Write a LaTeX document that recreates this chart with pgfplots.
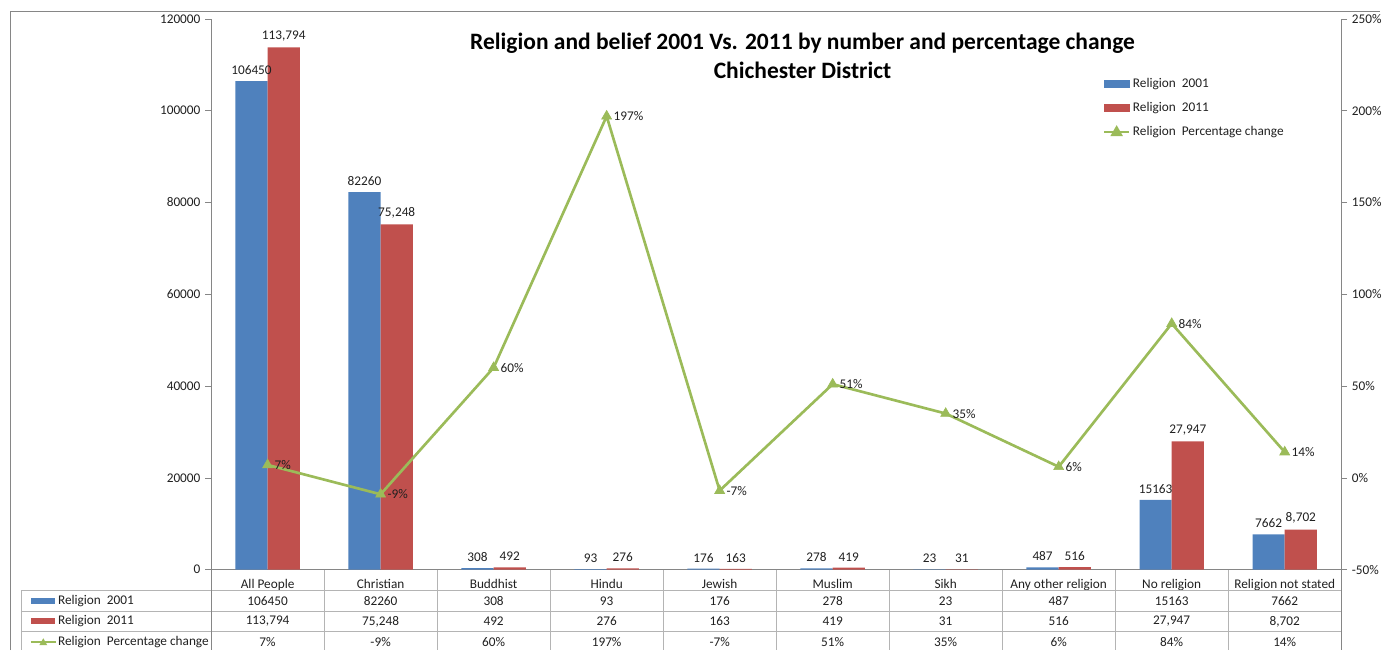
\documentclass[border=0pt]{standalone}
\usepackage{fontspec}
\setmainfont{Carlito}
\usepackage{pgfplots}
\usepackage{pgfplotstable}
\pgfplotsset{compat=1.18}

\definecolor{c01}{HTML}{4F81BD}
\definecolor{c11}{HTML}{C0504D}
\definecolor{cpc}{HTML}{9BBB59}
\definecolor{axgray}{HTML}{868686}
\definecolor{tblgray}{HTML}{B4B4B4}
\definecolor{txt}{HTML}{202020}

\pgfkeys{/pgf/number format/.cd, fixed, precision=0, assume math mode=true}

\pgfplotstableread[col sep=comma]{
id,cat,y01,y11,pc
0,All People,106450,113794,7
1,Christian,82260,75248,-9
2,Buddhist,308,492,60
3,Hindu,93,276,197
4,Jewish,176,163,-7
5,Muslim,278,419,51
6,Sikh,23,31,35
7,Any other religion,487,516,6
8,No religion,15163,27947,84
9,Religion not stated,7662,8702,14
}\data

\pgfplotsset{
  base/.style={
    at={(159pt,60.75pt)}, anchor=south west,
    scale only axis, width=851.25pt, height=414.75pt,
    xmin=-0.5, xmax=9.5, clip=false,
    axis line style={axgray, -},
    tick style={axgray, thin},
    tick align=outside, major tick length=4.5pt,
    ticklabel style={font=\fontsize{10}{12}\selectfont, text=txt},
    /pgf/number format/fixed, /pgf/number format/precision=0,
    /pgf/number format/assume math mode=true,
    scaled y ticks=false,
  },
}

\begin{document}
\begin{tikzpicture}
\begin{scope}[x=0.75pt,y=-0.75pt,yshift=489.75pt]
  \path[use as bounding box] (0,0) rectangle (1386,653);
  \draw[axgray, line width=0.8pt] (11,653) -- (11,12) -- (1386,12);
\end{scope}

\begin{axis}[base,
  axis x line*=bottom, axis y line*=left,
  ymin=0, ymax=120000, ytick={0,20000,...,120000},
  yticklabel style={/pgf/number format/1000 sep={}},
  xtick={0,...,9}, xticklabels from table={\data}{cat},
  xtick style={draw=none},
  xticklabel style={yshift=1pt},
  nodes near coords,
  every node near coord/.append style={font=\fontsize{10}{12}\selectfont, text=txt, anchor=south, inner sep=2.5pt, yshift=2.2pt},
]
  \addplot[ybar, bar width=0.285, bar shift=-0.1425, fill=c01, draw=none,
    every node near coord/.append style={xshift=-12.13pt, /pgf/number format/1000 sep={}}]
    table[x=id, y=y01] {\data};
  \addplot[ybar, bar width=0.285, bar shift=0.1425, fill=c11, draw=none,
    every node near coord/.append style={xshift=12.13pt, /pgf/number format/1000 sep={,}}]
    table[x=id, y=y11] {\data};
\end{axis}

\begin{axis}[base,
  axis y line*=right, axis x line=none,
  ymin=-50, ymax=250, ytick={-50,0,...,250},
  yticklabel={\pgfmathprintnumber{\tick}\%},
  legend style={at={(0.789,0.897)}, anchor=north west, draw=none, fill=none,
    font=\fontsize{10}{12}\selectfont, text=txt, row sep=5.5pt, inner sep=0pt,
    cells={anchor=west}},
  legend image code/.code={},
]
  \addlegendimage{legend image code/.code={\fill[c01] (0pt,-2.6pt) rectangle (19pt,2.6pt);}}
  \addlegendentry{Religion\ \ 2001}
  \addlegendimage{legend image code/.code={\fill[c11] (0pt,-2.6pt) rectangle (19pt,2.6pt);}}
  \addlegendentry{Religion\ \ 2011}
  \addplot[cpc, line width=2pt, mark=triangle*, mark size=4.3pt,
    mark options={fill=cpc, draw=cpc, line width=0.5pt},
    legend image code/.code={\draw[cpc, line width=1.5pt] (0pt,0pt) -- (19pt,0pt);
      \fill[cpc] (9.5pt,3pt) -- (12.5pt,-2.2pt) -- (6.5pt,-2.2pt) -- cycle;},
    nodes near coords={\pgfmathprintnumber{\pgfplotspointmeta}\%},
    every node near coord/.append style={font=\fontsize{10}{12}\selectfont, text=txt, anchor=west, xshift=3pt, inner sep=2pt}]
    table[x=id, y=pc] {\data};
  \addlegendentry{Religion\ \ Percentage change}
\end{axis}

\begin{scope}[x=0.75pt,y=-0.75pt,yshift=489.75pt]
  \node[font=\bfseries\fontsize{17.7}{21.75}\selectfont, text=black, align=center]
    at (806,56) {Religion and belief 2001 Vs. 2011 by number and percentage change\\Chichester District};
  % data table
  \draw[tblgray, line width=0.6pt] (21,593) -- (1347,593) (21,614) -- (1347,614) (21,634) -- (1347,634)
    (21,593) -- (21,653);
  \foreach \k in {1,...,9} {
    \draw[tblgray, line width=0.6pt] ({212+113.5*\k},572) -- ({212+113.5*\k},653);
  }
  \draw[axgray, line width=0.4pt] (212,572) -- (212,653) (1347,572) -- (1347,653);
  \fill[c01] (31,601) rectangle (55,607);
  \fill[c11] (31,621) rectangle (55,627);
  \draw[cpc, line width=1.5pt] (31,645) -- (56,645);
  \fill[cpc] (43.5,641) -- (47.5,648) -- (39.5,648) -- cycle;
  \tikzset{rl/.style={anchor=west, font=\fontsize{10}{12}\selectfont, text=txt, inner sep=0pt}}
  \node[rl] at (58,604) {Religion\ \ 2001};
  \node[rl] at (58,624) {Religion\ \ 2011};
  \node[rl] at (58,645) {Religion\ \ Percentage change};
  \tikzset{tc/.style={font=\fontsize{10}{12}\selectfont, text=txt, inner sep=0pt}}
  \foreach \i in {0,...,9} {
    \pgfmathsetmacro\cx{268.75+113.5*\i}
    \node[tc] at (\cx,604) {\pgfplotstablegetelem{\i}{y01}\of\data\pgfmathprintnumber[1000 sep={}]{\pgfplotsretval}};
    \node[tc] at (\cx,624) {\pgfplotstablegetelem{\i}{y11}\of\data\pgfmathprintnumber[1000 sep={,}]{\pgfplotsretval}};
    \node[tc] at (\cx,645) {\pgfplotstablegetelem{\i}{pc}\of\data\pgfmathprintnumber{\pgfplotsretval}\%};
  }
\end{scope}
\end{tikzpicture}
\end{document}
